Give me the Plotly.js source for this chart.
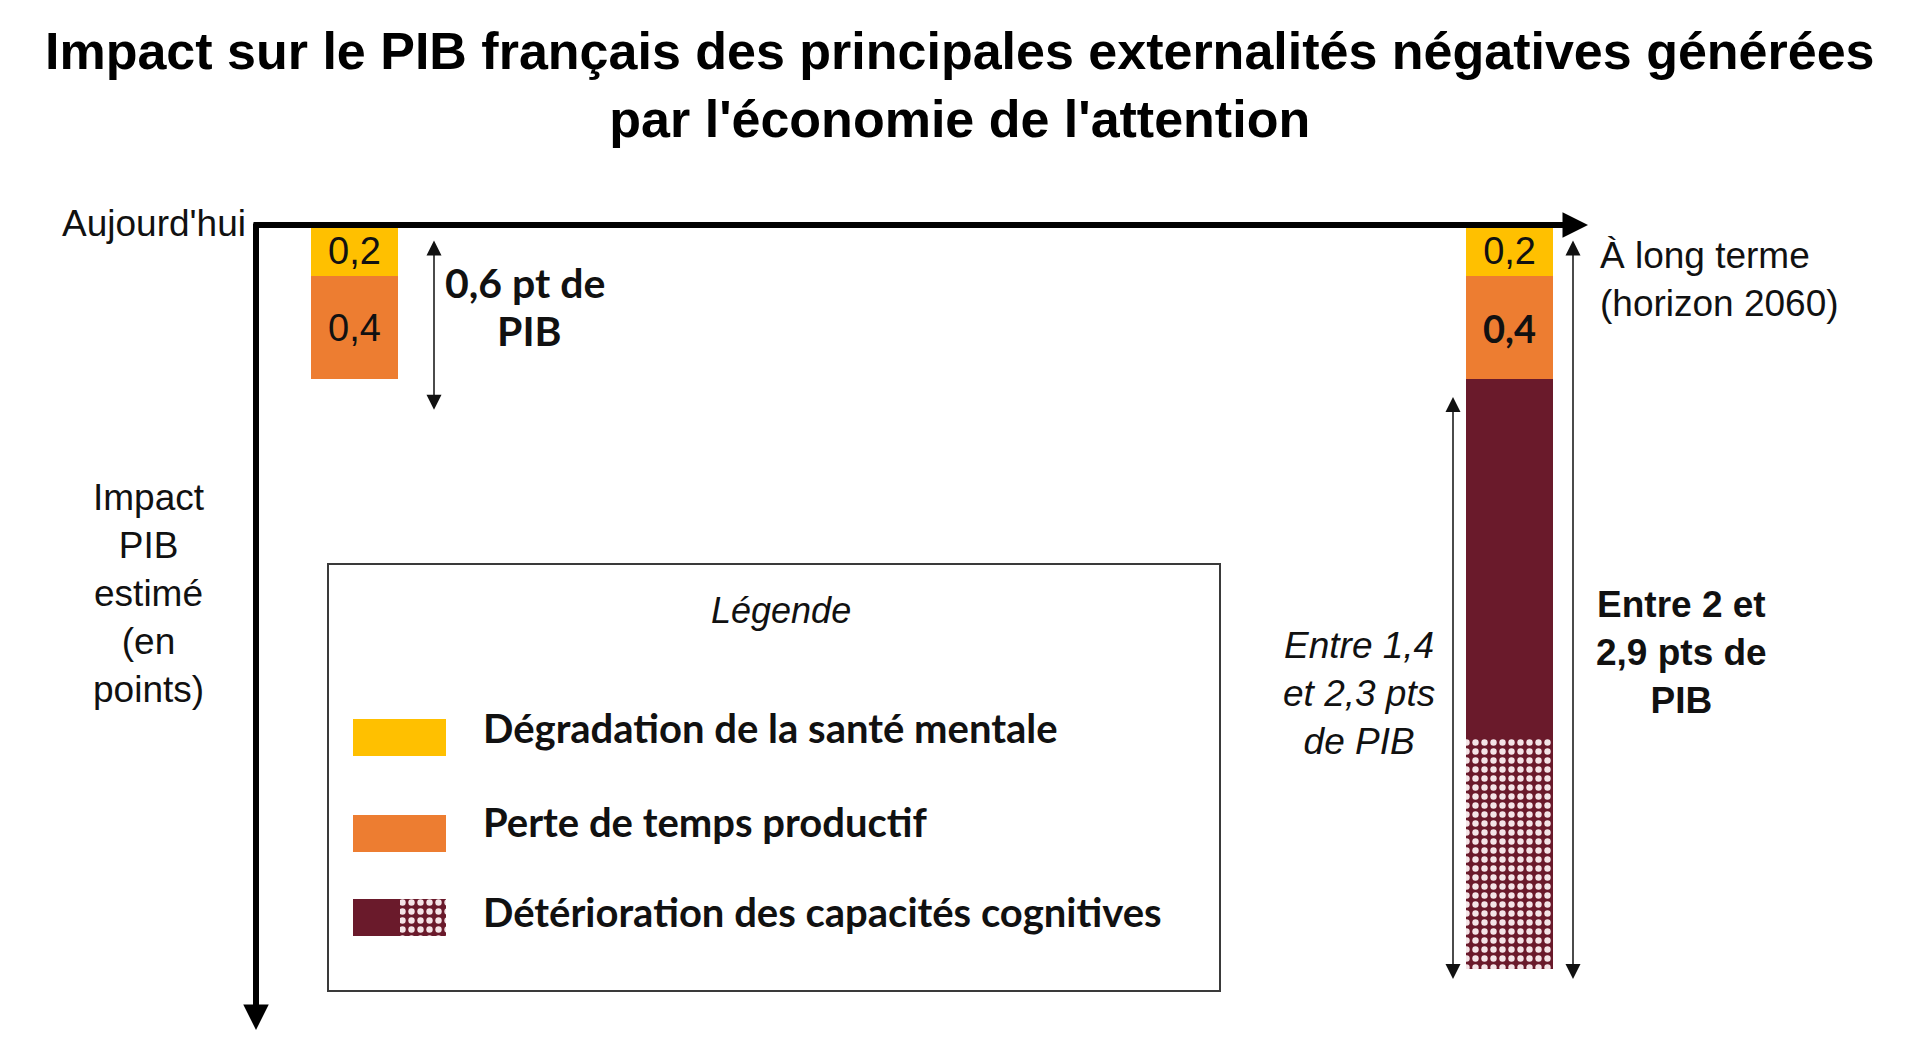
<!DOCTYPE html>
<html>
<head>
<meta charset="utf-8">
<script src="https://cdn.plot.ly/plotly-3.0.1.min.js"></script>
<style>
  html, body { margin: 0; padding: 0; background: #fff; }
  #chart { width: 1920px; height: 1052px; }
</style>
</head>
<body>
<div id="chart"></div>
<script>
// data (points of GDP)
const periodes = ["Aujourd'hui", "À long terme (horizon 2060)"]
const santeMentale = [0.2, 0.2]
const tempsProductif = [0.4, 0.4]
const cognitifBas = [0, 1.4]
const cognitifEcart = [0, 0.9]
const legendeLabels = [
  "Dégradation de la santé mentale",
  "Perte de temps productif",
  "Détérioration des capacités cognitives"
]

const JAUNE = "#FFC000"
const ORANGE = "#ED7D31"
const BORDEAUX = "#6A1A2B"
const TXT = "#111111"
const ARIAL = "Liberation Sans, Arial, sans-serif"
const CALIBRI = "Lato, Liberation Sans, sans-serif"

// plot area in pixels: x 256..1586, y 225..1028
const L = 256, T = 225, W = 1330, H = 803
function px(x) { return (x - L) / W }
function py(y) { return 1 - (y - T) / H }

function fmt(v) { return v ? v.toFixed(1).replace(".", ",") : "" }

const barW = 0.076
const pointille = { shape: ".", bgcolor: BORDEAUX, fgcolor: "#f4e4e7", size: 9, solidity: 0.4 }

const totalAuj = santeMentale[0] + tempsProductif[0]
const totalBas = totalAuj + cognitifBas[1]
const totalHaut = totalBas + cognitifEcart[1]

const traces = [
  {
    type: "bar", x: periodes, y: santeMentale, width: barW,
    marker: { color: JAUNE },
    text: santeMentale.map(fmt), textposition: "inside", insidetextanchor: "middle",
    textangle: 0, constraintext: "none",
    textfont: { family: ARIAL, size: 38, color: TXT }
  },
  {
    type: "bar", x: periodes, y: tempsProductif, width: barW,
    marker: { color: ORANGE },
    text: tempsProductif.map(fmt), textposition: "inside", insidetextanchor: "middle",
    textangle: 0, constraintext: "none",
    textfont: { family: [ARIAL, CALIBRI], size: 38, color: TXT, weight: [400, 700] }
  },
  {
    type: "bar", x: periodes, y: cognitifBas, width: barW,
    marker: { color: BORDEAUX }
  },
  {
    type: "bar", x: periodes, y: cognitifEcart, width: barW,
    marker: { color: BORDEAUX, pattern: pointille }
  },
  // legend swatches (own small subplot so the dotted half can use a pattern)
  {
    type: "bar", orientation: "h", xaxis: "x2", yaxis: "y2",
    y: [737, 833, 917], x: [1, 1, 0.5], width: 37,
    marker: { color: [JAUNE, ORANGE, BORDEAUX] }
  },
  {
    type: "bar", orientation: "h", xaxis: "x2", yaxis: "y2",
    y: [917], x: [0.5], width: 37,
    marker: { color: BORDEAUX, pattern: pointille }
  }
]

function txt(text, x, y, opts) {
  return Object.assign({
    xref: "paper", yref: "paper", x: px(x), y: py(y), text: text,
    showarrow: false, xanchor: "center", yanchor: "middle",
    font: { family: ARIAL, size: 37, color: TXT }
  }, opts || {})
}

function doubleArrow(x, top, bottom) {
  return {
    xref: "paper", x: px(x), yref: "y", y: bottom,
    axref: "pixel", ax: 0, ayref: "y", ay: top,
    text: "", showarrow: true, arrowside: "end+start",
    arrowhead: 2, startarrowhead: 2, arrowsize: 2, startarrowsize: 2,
    arrowwidth: 1.5, arrowcolor: TXT, standoff: 0, startstandoff: 0
  }
}

const boldCal = { family: CALIBRI, size: 41, color: TXT, weight: 700 }
const legFont = { family: CALIBRI, size: 40, color: TXT, weight: 700 }

const annotations = [
  // title
  txt("<b>Impact sur le PIB français des principales externalités négatives générées<br>par l'économie de l'attention</b>",
      960, 85, { font: { family: ARIAL, size: 52, color: "#000" } }),

  // axes with arrow heads
  {
    xref: "paper", yref: "paper", x: px(1588), y: py(225), ax: -1336, ay: 0,
    text: "", showarrow: true, arrowhead: 2, arrowsize: 0.85, arrowwidth: 6, arrowcolor: "#000"
  },
  {
    xref: "paper", yref: "paper", x: px(256), y: py(1030), ax: 0, ay: -808,
    text: "", showarrow: true, arrowhead: 2, arrowsize: 0.85, arrowwidth: 6, arrowcolor: "#000"
  },
  doubleArrow(434, 0.055, totalAuj + 0.12),
  doubleArrow(1453, totalAuj + 0.065, totalHaut + 0.04),
  doubleArrow(1573, 0.055, totalHaut + 0.04),

  txt(periodes[0], 248, 223, { xanchor: "right" }),
  txt("À long terme<br>(horizon 2060)", 1598, 279, { xanchor: "left", align: "left" }),
  txt("Impact<br>PIB<br>estimé<br>(en<br>points)", 149, 593),
  txt("0,6 pt de", 525, 282, { font: boldCal }),
  txt("PIB", 529, 330, { font: boldCal }),
  txt("<i>Entre 1,4<br>et 2,3 pts<br>de PIB</i>", 1359, 693),
  txt("<b>Entre 2 et<br>2,9 pts de<br>PIB</b>", 1682, 652),

  txt("<i>Légende</i>", 781, 610, { font: { family: ARIAL, size: 36, color: TXT } }),
  txt(legendeLabels[0], 481, 728, { xanchor: "left", font: legFont }),
  txt(legendeLabels[1], 481, 822, { xanchor: "left", font: legFont }),
  txt(legendeLabels[2], 481, 912, { xanchor: "left", font: legFont })
]

const layout = {
  width: 1920, height: 1052,
  margin: { l: L, t: T, r: 1920 - L - W, b: 1052 - T - H, pad: 0 },
  paper_bgcolor: "#ffffff", plot_bgcolor: "#ffffff",
  separators: ", ",
  barmode: "stack",
  showlegend: false,
  hovermode: false,
  xaxis: {
    type: "category", range: [-0.0853, 1.0662],
    showticklabels: false, showgrid: false, zeroline: false, showline: false, ticks: ""
  },
  yaxis: {
    range: [H / 256.5, 0],
    showticklabels: false, showgrid: false, zeroline: false, showline: false, ticks: ""
  },
  xaxis2: { domain: [px(353), px(446)], range: [0, 1], anchor: "y2", visible: false, fixedrange: true },
  yaxis2: { domain: [py(936), py(718)], range: [936, 718], anchor: "x2", visible: false, fixedrange: true },
  shapes: [
    {
      type: "rect", xref: "paper", yref: "paper",
      x0: px(328), x1: px(1220), y0: py(564), y1: py(991),
      line: { color: "#3a3a3a", width: 2 }, fillcolor: "rgba(0,0,0,0)"
    }
  ],
  annotations: annotations
}

Plotly.newPlot("chart", traces, layout, { displayModeBar: false, staticPlot: true })
</script>
</body>
</html>
